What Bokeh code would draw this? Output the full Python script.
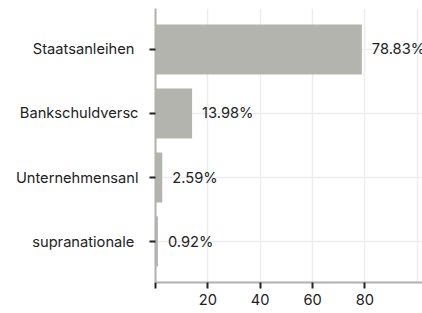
from bokeh.plotting import figure
from bokeh.models import ColumnDataSource, FixedTicker, Range1d
from bokeh.core.properties import value
from bokeh.embed import file_html
from bokeh.resources import INLINE

categories = ["Staatsanleihen ", "Bankschuldversc", "Unternehmensanl", "supranationale "]
values = [78.83, 13.98, 2.59, 0.92]
labels = ["78.83%", "13.98%", "2.59%", "0.92%"]
x_ticks = [0, 20, 40, 60, 80]
grid_ticks = [0, 20, 40, 60, 80, 100]

n = len(categories)
ypos = [n - 1 - i for i in range(n)]

src = ColumnDataSource(dict(y=ypos, v=values, lab=labels))

FONT = "Inter"
FS = "11pt"

p = figure(width=422, height=313, output_backend="svg", toolbar_location=None,
           x_range=Range1d(0, 102), y_range=Range1d(-0.64, n - 1 + 0.64),
           min_border_left=155, min_border_right=0, min_border_top=8, min_border_bottom=31)
p.outline_line_color = None
p.background_fill_color = "white"

p.hbar(y="y", right="v", left=0, height=0.78, source=src,
       fill_color="#b4b4ae", line_color=None)
p.text(x="v", y="y", text="lab", source=src, x_offset=10,
       text_font=value(FONT), text_font_size=FS, text_color="#222222",
       text_baseline="middle", text_align="left")

# axes
xa = p.xaxis[0]
xa.ticker = FixedTicker(ticks=x_ticks)
xa.major_label_overrides = {0: ""}
ya = p.yaxis[0]
ya.ticker = FixedTicker(ticks=ypos)
ya.major_label_overrides = {y: c for y, c in zip(ypos, categories)}

for ax in (xa, ya):
    ax.axis_line_color = "#b0b0b0"
    ax.axis_line_width = 2
    ax.major_tick_line_color = "#222222"
    ax.major_tick_line_width = 2
    ax.major_tick_out = 6
    ax.major_tick_in = 0
    ax.minor_tick_line_color = None
    ax.major_label_text_font = FONT
    ax.major_label_text_font_size = FS
    ax.major_label_text_color = "#222222"
xa.major_label_standoff = 5
ya.major_label_standoff = 11

p.xgrid[0].ticker = FixedTicker(ticks=grid_ticks)
p.ygrid[0].ticker = FixedTicker(ticks=ypos)
p.xgrid[0].grid_line_color = "#ededed"
p.ygrid[0].grid_line_color = "#ededed"
p.xgrid[0].grid_line_width = 1.5
p.ygrid[0].grid_line_width = 1.5

open("out.html", "w").write(file_html(p, INLINE))
